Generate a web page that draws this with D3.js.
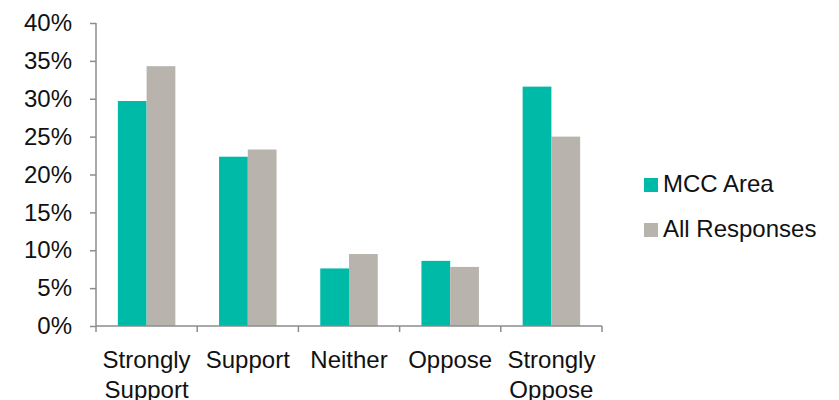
<!DOCTYPE html>
<html><head><meta charset="utf-8">
<script src="https://cdn.jsdelivr.net/npm/d3@7"></script>
<style>body{margin:0;background:#fff;} text{font-family:"Liberation Sans",Arial,sans-serif;}</style>
</head><body><svg id="c" width="839" height="400"></svg>
<script>
const categories = ["Strongly Support","Support","Neither","Oppose","Strongly Oppose"];
const seriesNames = ["MCC Area","All Responses"];
const mccArea = [29.7, 22.35, 7.6, 8.6, 31.6];
const allResponses = [34.3, 23.3, 9.5, 7.8, 25.0];
const yTicks = [0,5,10,15,20,25,30,35,40];
const colors = ["#00BAA8","#B8B3AD"];

const svg = d3.select("#c");
const x0 = 96, x1 = 602, yTop = 23, yBot = 326;
const x = d3.scaleBand().domain(categories).range([x0,x1]).paddingInner(0).paddingOuter(0);
const xs = d3.scaleBand().domain(seriesNames).range([0,x.bandwidth()]).paddingInner(0).paddingOuter(0.76);
const y = d3.scaleLinear().domain([0,40]).range([yBot,yTop]);
const axisColor = "#8C8C8C";

const rows = categories.map((c,i)=>({c, vals:[mccArea[i], allResponses[i]]}));
const g = svg.append("g");
g.selectAll("g.cat").data(rows).join("g").attr("class","cat")
 .attr("transform",d=>`translate(${x(d.c)},0)`)
 .selectAll("rect").data(d=>d.vals.map((v,j)=>({v,j}))).join("rect")
 .attr("x",d=>xs(seriesNames[d.j])).attr("width",xs.bandwidth())
 .attr("y",d=>y(d.v)).attr("height",d=>yBot-y(d.v))
 .attr("fill",d=>colors[d.j]);

// y axis
const ya = svg.append("g").attr("transform",`translate(${x0},0)`)
 .call(d3.axisLeft(y).tickValues(yTicks).tickFormat(d=>d+"%").tickSize(6).tickPadding(18));
ya.select(".domain").attr("stroke",axisColor).attr("stroke-width",1.5).attr("d",`M0,${yTop}V${yBot}`);
ya.selectAll(".tick line").attr("stroke",axisColor).attr("stroke-width",1.5);
ya.selectAll(".tick text").attr("font-size",24).attr("fill","#111").attr("font-family","Liberation Sans, Arial, sans-serif");

// x axis
const xa = svg.append("g").attr("transform",`translate(0,${yBot})`)
 .call(d3.axisBottom(x).tickSize(0).tickFormat(""));
xa.select(".domain").attr("stroke",axisColor).attr("stroke-width",1.5).attr("d",`M${x0},0H${x1}`);
const bounds = [x0].concat(categories.map(c=>x(c)+x.bandwidth()));
xa.selectAll("line.b").data(bounds).join("line").attr("class","b")
 .attr("x1",d=>d).attr("x2",d=>d).attr("y1",0).attr("y2",6)
 .attr("stroke",axisColor).attr("stroke-width",1.5);
const labels = svg.append("g");
categories.forEach(c=>{
  const words = c.split(" ");
  const t = labels.append("text").attr("x",x(c)+x.bandwidth()/2).attr("y",368)
    .attr("text-anchor","middle").attr("font-size",24).attr("fill","#111");
  words.forEach((w,i)=>t.append("tspan").attr("x",x(c)+x.bandwidth()/2).attr("dy",i===0?0:30).text(w));
});

// legend
const leg = svg.append("g");
seriesNames.forEach((s,i)=>{
  const yy = 178 + i*45;
  leg.append("rect").attr("x",644).attr("y",yy).attr("width",14).attr("height",14).attr("fill",colors[i]);
  leg.append("text").attr("x",663).attr("y",yy+14).attr("font-size",24).attr("fill","#111").text(s);
});
</script></body></html>
